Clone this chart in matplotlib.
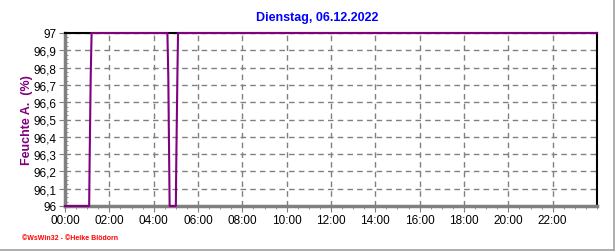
import matplotlib
matplotlib.use("Agg")
import matplotlib.pyplot as plt
from matplotlib.lines import Line2D
from matplotlib.ticker import MultipleLocator

# hours since midnight / relative humidity in %
hours = [0, 1.09, 1.11, 1.16, 1.20, 4.62, 4.66, 4.70, 4.72, 5.00, 5.02, 5.07, 5.10, 24]
humidity = [96, 96, 96.25, 96.75, 97, 97, 96.75, 96.25, 96, 96, 96.25, 96.75, 97, 97]

xticks = list(range(0, 24, 2))
xlabels = ["%02d:00" % h for h in xticks]
yticks = [96 + i / 10 for i in range(11)]
ylabels = ["96", "96,1", "96,2", "96,3", "96,4", "96,5", "96,6", "96,7", "96,8", "96,9", "97"]

plt.rcParams["font.family"] = ["Liberation Sans", "DejaVu Sans"]

fig = plt.figure(figsize=(6.16, 2.53), dpi=100)
ax = fig.add_axes([65 / 616, 46 / 253, 532 / 616, 173 / 253])

ax.plot(hours, humidity, color="#800080", lw=1.5, clip_on=False, zorder=5)

ax.set_xlim(0, 24)
ax.set_ylim(96, 97)
ax.set_xticks(xticks)
ax.set_xticklabels(xlabels, fontsize=8.5)
ax.set_yticks(yticks)
ax.set_yticklabels(ylabels, fontsize=8.5)
ax.xaxis.set_minor_locator(MultipleLocator(0.5))
ax.yaxis.set_minor_locator(MultipleLocator(0.025))

ax.grid(True, which="major", color="#808080", ls=(0, (4, 3)), lw=1)
ax.tick_params(which="both", color="#808080", direction="out")
ax.tick_params(which="major", length=4, pad=2)
ax.tick_params(which="minor", length=2)
ax.tick_params(axis="y", which="minor", direction="in")

ax.spines["left"].set_color("#808080")
ax.spines["left"].set_linewidth(2.5)
ax.spines["bottom"].set_color("#808080")
ax.spines["bottom"].set_linewidth(2.5)
ax.spines["top"].set_color("black")
ax.spines["top"].set_linewidth(1.5)
ax.spines["right"].set_color("black")
ax.spines["right"].set_linewidth(1.5)

ax.set_ylabel("Feuchte A.  (%)", color="#800080", fontsize=9, fontweight="bold")
ax.yaxis.set_label_coords(-32 / 532, 0.5)

fig.text(317 / 616, 1 - 18 / 253, "Dienstag, 06.12.2022", color="#0000ff",
         fontsize=9, fontweight="bold", ha="center", va="center")
fig.text(22 / 616, 1 - 239 / 253, "\u00a9WsWin32 - \u00a9Heike Bl\u00f6dorn", color="red",
         fontsize=5, fontweight="bold", ha="left", va="center")

# gray frame on the right and bottom of the image
fig.add_artist(Line2D([0, 614 / 616], [2 / 253, 2 / 253], color="#a0a0a0", lw=1.2))
fig.add_artist(Line2D([614 / 616, 614 / 616], [2 / 253, 1], color="#a0a0a0", lw=1.2))

fig.savefig("out.png", dpi=100)
